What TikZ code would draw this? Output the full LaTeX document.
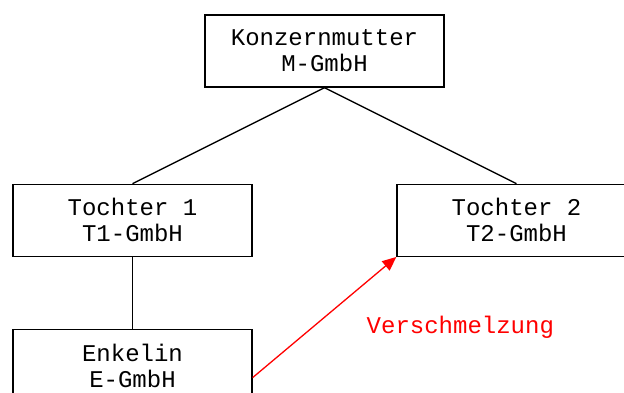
\documentclass[tikz,border=0pt]{standalone}
\usepackage{fontspec}
\setmonofont{Liberation Mono}
\usetikzlibrary{positioning, arrows.meta, calc}

\begin{document}
\begin{tikzpicture}[
  firma/.style={draw, line width=1.3pt, rectangle, minimum width=239pt, minimum height=72pt, inner sep=0pt, align=center, font=\ttfamily\fontsize{24}{26}\selectfont},
  link/.style={line width=1.3pt},
  merge/.style={-{Triangle[length=14pt,width=12pt]}, red, line width=1.3pt}
]
  \clip (0,0) rectangle (624pt,-392pt);
  \fill[white] (0,0) rectangle (624pt,-392pt);

  \node[firma] (mutter) at (324.5pt,-51pt) {Konzernmutter\\M-GmbH};
  \node[firma, below=96pt of mutter, xshift=-192pt] (tochter1) {Tochter 1\\T1-GmbH};
  \node[firma, below=96pt of mutter, xshift=192pt] (tochter2) {Tochter 2\\T2-GmbH};
  \node[firma, below=72pt of tochter1] (enkelin) {Enkelin\\E-GmbH};

  \draw[link] (mutter.south) -- (tochter1.north);
  \draw[link] (mutter.south) -- (tochter2.north);
  \draw[link] (tochter1.south) -- (enkelin.north);

  \coordinate (start) at ($(enkelin.east)+(0,-12pt)$);
  \draw[merge] (start) -- (tochter2.south west);
  \node[red, font=\ttfamily\fontsize{24}{26}\selectfont] (label) at ($(tochter2.south west)+(64pt,-70pt)$) {Verschmelzung};
\end{tikzpicture}
\end{document}
